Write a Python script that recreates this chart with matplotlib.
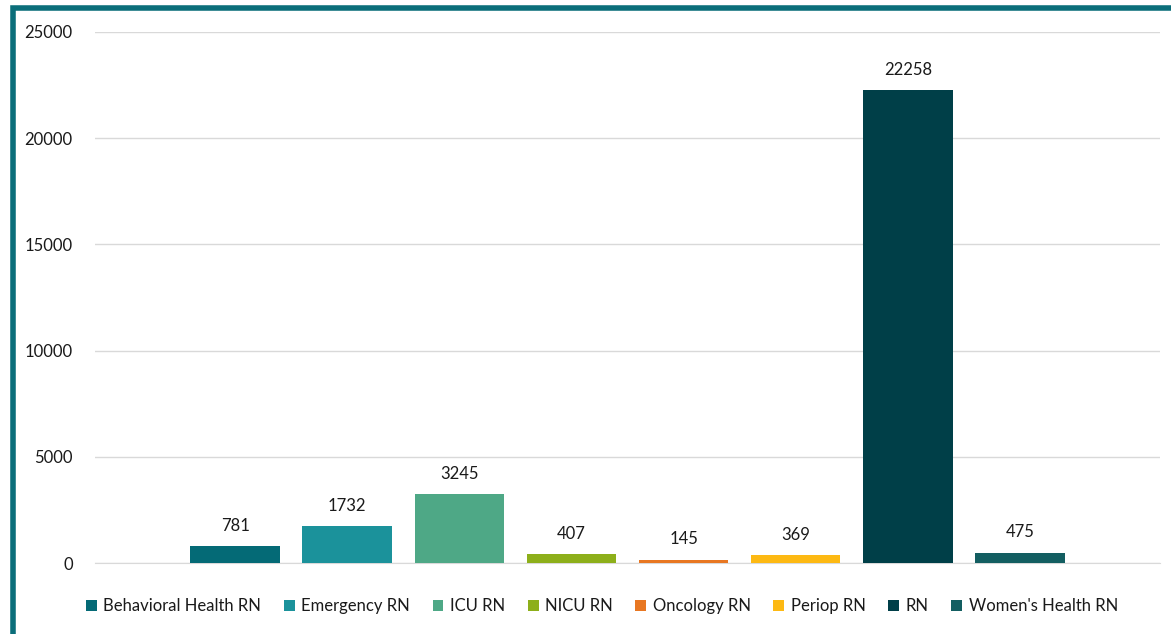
import matplotlib.pyplot as plt
from matplotlib.patches import Rectangle

plt.rcParams['font.family'] = ['Lato', 'DejaVu Sans']

# data
roles = ['Behavioral Health RN', 'Emergency RN', 'ICU RN', 'NICU RN',
         'Oncology RN', 'Periop RN', 'RN', "Women's Health RN"]
counts = [781, 1732, 3245, 407, 145, 369, 22258, 475]
colors = ['#046A76', '#1B929B', '#4EA886', '#8DAF1A',
          '#E87722', '#FDB913', '#003F48', '#135E61']
yticks = [0, 5000, 10000, 15000, 20000, 25000]

fig = plt.figure(figsize=(11.71, 6.34), dpi=100)
ax = fig.add_axes([95 / 1171, 1 - 563 / 634, (1160 - 95) / 1171, (563 - 32) / 634])

# teal frame on left and top edges
fig.patches.append(Rectangle((12.5 / 1171, -0.1), 1.2, (634 - 8) / 634 + 0.1,
                             transform=fig.transFigure, fill=False,
                             edgecolor='#0B6E7A', lw=4, zorder=0))

for i, (r, c, col) in enumerate(zip(roles, counts, colors)):
    ax.bar(i, c, width=0.8, color=col, label=r, zorder=3)
    ax.annotate(f'{c}', (i, c), xytext=(0, 9), textcoords='offset points',
                ha='center', va='bottom', fontsize=12, color='#1a1a1a')

ax.set_xlim(-1.25, 8.25)
ax.set_ylim(0, 25000)
ax.set_yticks(yticks)
ax.set_yticklabels([str(t) for t in yticks], fontsize=12, color='#1a1a1a')
ax.set_xticks([])
ax.tick_params(axis='y', length=0, pad=16)
ax.grid(axis='y', color='#D9D9D9', lw=1, zorder=0)
for s in ['top', 'right', 'left']:
    ax.spines[s].set_visible(False)
ax.spines['bottom'].set_color('#D9D9D9')

leg = fig.legend(loc='center', bbox_to_anchor=(602 / 1171, 1 - 606 / 634), ncol=8,
                 frameon=False, fontsize=12, handlelength=0.65, handleheight=0.65,
                 handletextpad=0.4, columnspacing=1.35)
for t in leg.get_texts():
    t.set_color('#1a1a1a')

fig.savefig('out.png', dpi=100)
